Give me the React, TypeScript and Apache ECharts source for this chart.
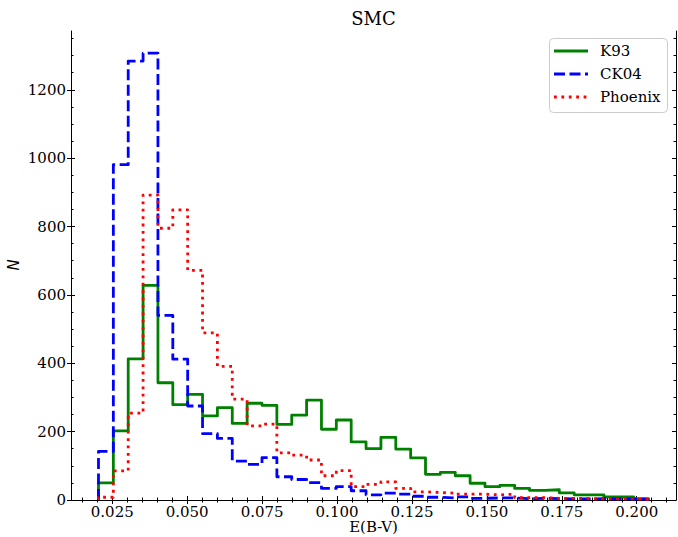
import React, { useEffect, useRef } from "react";
import * as echarts from "echarts";

// Histogram binning of E(B-V)
const binStart = 0.0204;
const binWidth = 0.00496;

// Counts per bin for each stellar atmosphere model grid
const k93 = [
  50, 202, 413, 628, 343, 279, 309, 246, 270, 224, 283, 277, 221, 248, 292, 207,
  234, 170, 150, 183, 149, 123, 75, 81, 71, 49, 39, 43, 34, 28, 30, 21, 15, 15,
  9, 9, 4,
];
const ck04 = [
  142, 981, 1284, 1307, 540, 412, 275, 194, 180, 114, 104, 124, 68, 60, 51, 34,
  39, 27, 15, 20, 17, 11, 8, 6, 9, 5, 6, 6, 4, 5, 4, 3, 3, 4, 3, 3, 2,
];
const phoenix = [
  8, 85, 254, 892, 795, 849, 672, 489, 391, 295, 217, 222, 138, 131, 117, 71, 86,
  39, 46, 53, 34, 24, 22, 20, 17, 17, 15, 17, 7, 7, 5, 5, 4, 3, 3, 3, 2,
];

const seriesNames = ["K93", "CK04", "Phoenix"];

// Tick positions
const xTicks = [0.025, 0.05, 0.075, 0.1, 0.125, 0.15, 0.175, 0.2];
const yTicks = [0, 200, 400, 600, 800, 1000, 1200];

const xMin = 0.01123;
const xMax = 0.2131;
const yMin = 0;
const yMax = 1372;

const FONT = "DejaVu Serif";

const xMinorTicks: number[] = [];
for (let i = 3; i <= 42; i++) xMinorTicks.push(Math.round(i * 5) / 1000);
const yMinorTicks: number[] = [];
for (let i = 0; i <= 27; i++) yMinorTicks.push(i * 50);

const lineStyles = [
  { color: "#008000", dash: null as number[] | null },
  { color: "#0000ff", dash: [11, 4.5] },
  { color: "#ff0000", dash: [2.8, 4.6] },
];

// Outline of a step histogram: up from zero at the first edge, across each bin, back to zero
function stepOutline(counts: number[]): number[][] {
  const pts: number[][] = [[binStart, 0]];
  counts.forEach((c, i) => {
    const a = binStart + i * binWidth;
    pts.push([a, c], [a + binWidth, c]);
  });
  pts.push([binStart + counts.length * binWidth, 0]);
  return pts;
}

function tickAxis(
  extent: [number, number],
  position: string,
  values: number[],
  length: number,
  inside: boolean,
  showLine: boolean
) {
  return {
    type: "value",
    position,
    min: extent[0],
    max: extent[1],
    splitLine: { show: false },
    axisLine: { show: showLine, lineStyle: { color: "#000", width: 1 } },
    axisLabel: { show: false },
    axisTick: {
      show: true,
      inside,
      length,
      customValues: values,
      lineStyle: { color: "#000", width: 1 },
    },
  };
}

// Framed legend in the upper-right corner of the plot
function legendGraphics() {
  const boxX = 549;
  const boxY = 38;
  const rowY = [51, 74, 97];
  const items: any[] = [
    {
      type: "rect",
      shape: { x: boxX + 0.5, y: boxY + 0.5, width: 118, height: 74, r: 4 },
      style: { fill: "rgba(255,255,255,0.8)", stroke: "#cccccc", lineWidth: 1 },
      z: 10,
    },
  ];
  seriesNames.forEach((name, i) => {
    items.push({
      type: "line",
      shape: { x1: boxX + 5, y1: rowY[i], x2: boxX + 39, y2: rowY[i] },
      style: {
        stroke: lineStyles[i].color,
        lineWidth: 2.8,
        lineDash: lineStyles[i].dash || undefined,
        lineCap: "butt",
      },
      z: 11,
    });
    items.push({
      type: "text",
      x: boxX + 51,
      y: rowY[i],
      style: {
        text: name,
        fontFamily: FONT,
        fontSize: 15,
        fill: "#000",
        textAlign: "left",
        textVerticalAlign: "middle",
      },
      z: 11,
    });
  });
  return items;
}

export default function App() {
  const ref = useRef<HTMLDivElement>(null);

  useEffect(() => {
    if (!ref.current) return;
    const chart = echarts.init(ref.current, null, { renderer: "svg" });

    const xExt: [number, number] = [xMin, xMax];
    const yExt: [number, number] = [yMin, yMax];

    const mainX = {
      ...tickAxis(xExt, "bottom", xTicks, 4, false, true),
      axisLabel: {
        show: true,
        customValues: xTicks,
        formatter: (v: number) => v.toFixed(3),
        fontFamily: FONT,
        fontSize: 15,
        color: "#000",
        margin: 4,
      },
    };
    const mainY = {
      ...tickAxis(yExt, "left", yTicks, 4, false, true),
      axisLabel: {
        show: true,
        customValues: yTicks,
        formatter: (v: number) => String(Math.round(v)),
        fontFamily: FONT,
        fontSize: 15,
        color: "#000",
        margin: 5,
      },
    };

    const sets = [k93, ck04, phoenix];

    chart.setOption({
      animation: false,
      grid: {
        left: 71,
        right: 2,
        top: 31,
        bottom: 37,
        containLabel: false,
        outerBoundsMode: "none",
      },
      xAxis: [
        mainX,
        tickAxis(xExt, "bottom", xTicks, 4, true, false),
        tickAxis(xExt, "bottom", xMinorTicks, 2.5, true, false),
        tickAxis(xExt, "top", xTicks, 4, true, true),
        tickAxis(xExt, "top", xMinorTicks, 2.5, true, false),
      ],
      yAxis: [
        mainY,
        tickAxis(yExt, "left", yTicks, 4, true, false),
        tickAxis(yExt, "left", yMinorTicks, 2.5, true, false),
        tickAxis(yExt, "right", yTicks, 4, true, true),
        tickAxis(yExt, "right", yMinorTicks, 2.5, true, false),
      ],
      graphic: [
        {
          type: "text",
          x: 373.5,
          y: 18,
          style: {
            text: "SMC",
            fontFamily: FONT,
            fontSize: 18,
            fill: "#000",
            textAlign: "center",
            textVerticalAlign: "middle",
          },
        },
        {
          type: "text",
          x: 373.5,
          y: 527,
          style: {
            text: "E(B-V)",
            fontFamily: FONT,
            fontSize: 15,
            fill: "#000",
            textAlign: "center",
            textVerticalAlign: "middle",
          },
        },
        {
          type: "text",
          x: 14,
          y: 265,
          rotation: Math.PI / 2,
          style: {
            text: "N",
            fontFamily: "DejaVu Sans",
            fontStyle: "italic",
            fontSize: 15,
            fill: "#000",
            textAlign: "center",
            textVerticalAlign: "middle",
          },
        },
        ...legendGraphics(),
      ],
      series: sets.map((counts, i) => ({
        name: seriesNames[i],
        type: "line",
        xAxisIndex: 0,
        yAxisIndex: 0,
        data: stepOutline(counts),
        symbol: "none",
        showSymbol: false,
        color: lineStyles[i].color,
        lineStyle: {
          color: lineStyles[i].color,
          width: 2.8,
          type: lineStyles[i].dash || "solid",
          cap: "butt",
          join: "round",
        },
        z: 2 + i,
      })),
    });

    return () => chart.dispose();
  }, []);

  return (
    <div
      ref={ref}
      style={{ position: "absolute", left: 0, top: 0, width: 678, height: 537 }}
    />
  );
}
